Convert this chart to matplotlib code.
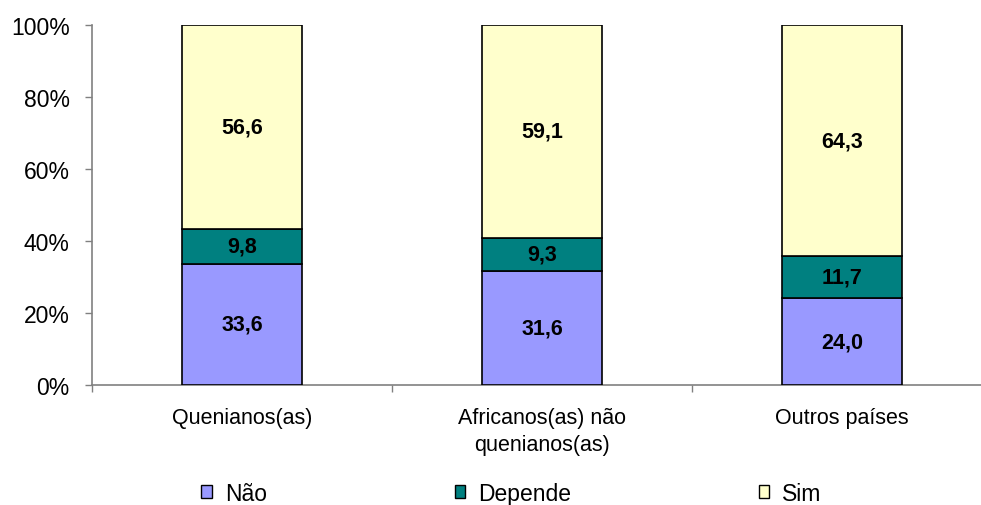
import matplotlib
matplotlib.use("Agg")
import matplotlib.pyplot as plt
from matplotlib.patches import Patch
from matplotlib.ticker import FixedLocator, PercentFormatter

plt.rcParams['font.family'] = ['Liberation Sans', 'DejaVu Sans']

categories = ["Quenianos(as)", "Africanos(as) não\nquenianos(as)", "Outros países"]
series_names = ["Não", "Depende", "Sim"]
nao = [33.6, 31.6, 24.0]
depende = [9.8, 9.3, 11.7]
sim = [56.6, 59.1, 64.3]
colors = ["#9999FF", "#008080", "#FFFFCC"]
y_ticks = [0, 20, 40, 60, 80, 100]

fig = plt.figure(figsize=(9.81, 5.06), dpi=100)
ax = fig.add_axes([92 / 981, 1 - 385.7 / 506, 900 / 981, 359.7 / 506])

x = list(range(len(categories)))
bottom = [0.0] * len(categories)
for name, vals, col in zip(series_names, [nao, depende, sim], colors):
    ax.bar(x, vals, width=0.4, bottom=bottom, color=col,
           edgecolor="black", linewidth=1.2, label=name, zorder=3)
    for xi, v, b in zip(x, vals, bottom):
        ax.text(xi, b + v / 2, f"{v:.1f}".replace(".", ","), ha="center",
                va="center", fontsize=15.5, fontweight="bold", color="black",
                zorder=4)
    bottom = [b + v for b, v in zip(bottom, vals)]

ax.set_xlim(-0.5, 2.5)
ax.set_ylim(0, 100)
ax.set_yticks(y_ticks)
ax.yaxis.set_major_formatter(PercentFormatter(decimals=0))
ax.set_xticks(x)
ax.set_xticklabels(categories, fontsize=15.5, linespacing=1.35)
ax.xaxis.set_minor_locator(FixedLocator([-0.5, 0.5, 1.5, 2.5]))
ax.tick_params(axis="x", which="major", length=0, pad=16)
ax.tick_params(axis="x", which="minor", length=5, width=1, color="#808080")
ax.tick_params(axis="y", length=5, width=1, color="#808080", labelsize=16.5, pad=11)

for side in ["top", "right"]:
    ax.spines[side].set_visible(False)
for side in ["left", "bottom"]:
    ax.spines[side].set_color("#808080")
    ax.spines[side].set_linewidth(1.2)

handles = [Patch(facecolor=c, edgecolor="black", linewidth=1) for c in colors]
fig.legend(handles, series_names, loc="center", bbox_to_anchor=(0.5215, 0.023),
           ncol=3, frameon=False, fontsize=16.5, handlelength=0.45,
           handleheight=0.5, handletextpad=0.57, columnspacing=8.2,
           borderpad=0)

fig.savefig("out.png", dpi=100)
